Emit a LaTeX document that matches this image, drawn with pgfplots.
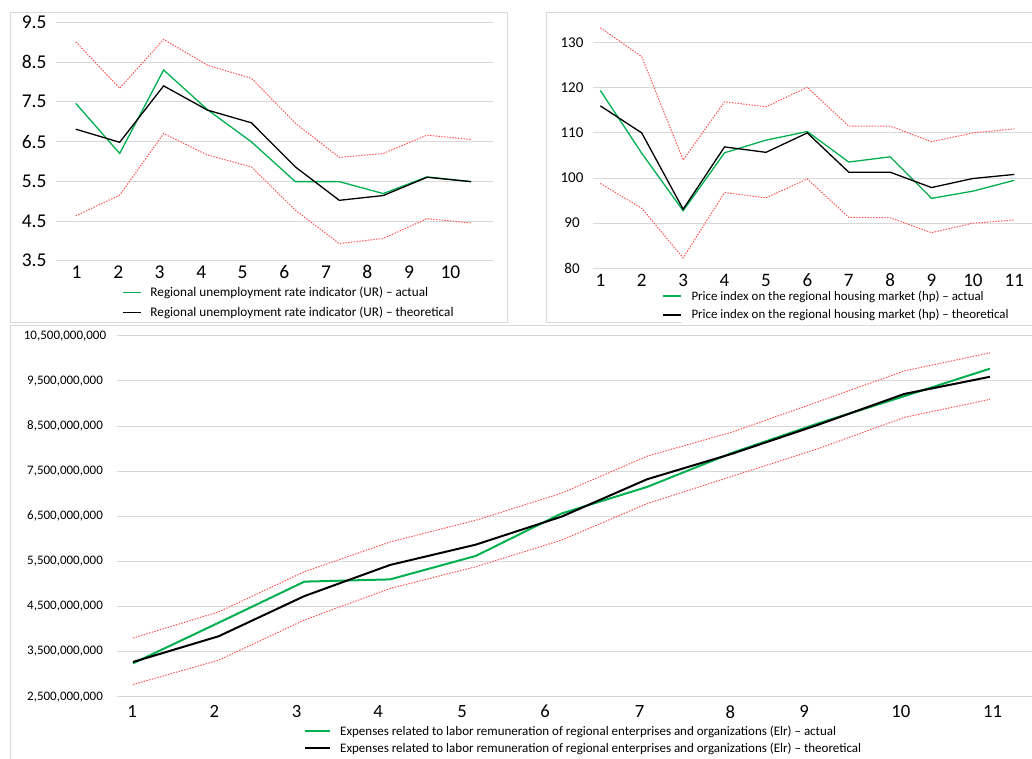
\documentclass[border=0pt]{standalone}
\usepackage{pgfplots}
\pgfplotsset{compat=1.18}
\usepackage{fontspec}
\setmainfont{Carlito}
\definecolor{xlgreen}{RGB}{0,176,80}
\definecolor{xlred}{RGB}{255,80,80}
\definecolor{gridgray}{RGB}{217,217,217}
\definecolor{bordergray}{RGB}{217,217,217}
\pgfplotsset{
  xlbase/.style={
    scale only axis, axis line style={draw=none}, tick style={draw=none},
    ymajorgrids, xmajorgrids=false, major grid style={gridgray, line width=0.9pt},
    /pgf/number format/assume math mode=true,
    legend cell align=left,
    xticklabel style={anchor=center, inner sep=0pt},
  },
  redl/.style={xlred, line width=1pt, dash pattern=on 1.4pt off 1.4pt, forget plot},
  grl/.style={xlgreen, line width=#1},
  bkl/.style={black, line width=#1},
}
\begin{document}
\begin{tikzpicture}
\useasboundingbox (0pt,0pt) rectangle (1032pt,-758pt);
\fill[white] (0pt,0pt) rectangle (1032pt,-758pt);
\begin{scope}
\clip (0pt,0pt) rectangle (1032pt,-758pt);
% panel borders
\draw[bordergray, line width=0.8pt] (10pt,-12pt) rectangle (507pt,-322pt);
\draw[bordergray, line width=0.8pt] (682pt,-322pt) -- (546.7pt,-322pt) -- (546.7pt,-12pt) -- (1040pt,-12pt);
\draw[bordergray, line width=0.8pt] (10pt,-770pt) -- (10pt,-325pt) -- (1040pt,-325pt);

% ---------------- top-left: UR
\begin{axis}[xlbase,
  at={(56pt,-260.7pt)}, anchor=south west,
  width=437pt, height=238.4pt,
  xmin=0.55, xmax=10.5, ymin=3.5, ymax=9.5,
  ytick={3.5,4.5,5.5,6.5,7.5,8.5,9.5},
  yticklabel style={anchor=east, inner sep=0pt, xshift=-9.3pt, font=\fontsize{19.5}{22}\selectfont,
    /pgf/number format/.cd, fixed, fixed zerofill, precision=1},
  xtick={1.02,1.97,2.91,3.86,4.80,5.75,6.70,7.64,8.59,9.53},
  xticklabels={1,2,3,4,5,6,7,8,9,10},
  xticklabel style={yshift=-11.6pt, font=\fontsize{19.5}{22}\selectfont},
  legend style={at={(axis description cs:0.151,-0.1753)}, anchor=west,
    draw=none, fill=none, inner sep=0pt, font=\fontsize{13.2}{15}\selectfont,
    nodes={inner sep=0pt}, row sep=9pt},
  legend image code/.code={\draw[#1] (0pt,0pt) -- (18pt,0pt); \path (27pt,0pt);},
]
\addplot[redl] coordinates {(1,9.01)(2,7.84)(3,9.07)(4,8.42)(5,8.09)(6,6.96)(7,6.10)(8,6.20)(9,6.66)(10,6.55)};
\addplot[redl] coordinates {(1,4.63)(2,5.15)(3,6.70)(4,6.16)(5,5.86)(6,4.77)(7,3.93)(8,4.06)(9,4.56)(10,4.45)};
\addplot[grl=1.3pt] coordinates {(1,7.46)(2,6.20)(3,8.30)(4,7.30)(5,6.49)(6,5.49)(7,5.49)(8,5.19)(9,5.61)(10,5.49)};
\addlegendentry{Regional unemployment rate indicator (UR) -- actual}
\addplot[bkl=1.3pt] coordinates {(1,6.81)(2,6.48)(3,7.90)(4,7.29)(5,6.97)(6,5.86)(7,5.02)(8,5.14)(9,5.60)(10,5.49)};
\addlegendentry{Regional unemployment rate indicator (UR) -- theoretical}
\end{axis}

% ---------------- top-right: hp
\begin{axis}[xlbase,
  at={(593.3pt,-268.3pt)}, anchor=south west,
  width=438.8pt, height=248.2pt,
  xmin=0.83, xmax=11.43, ymin=80, ymax=135,
  ytick={80,90,100,110,120,130},
  yticklabel style={anchor=center, inner sep=0pt, xshift=-21.3pt, font=\fontsize{15}{18}\selectfont},
  xtick={1,...,11},
  xticklabel style={yshift=-11.7pt, font=\fontsize{19}{22}\selectfont},
  legend style={at={(axis description cs:0.156,-0.150)}, anchor=west,
    draw=none, fill=none, inner sep=0pt, font=\fontsize{12.9}{15}\selectfont,
    nodes={inner sep=0pt}, row sep=8pt},
  legend image code/.code={\draw[#1] (0pt,0pt) -- (18.3pt,0pt); \path (28.3pt,0pt);},
]
\addplot[redl] coordinates {(1,133.3)(2,126.9)(3,104.0)(4,116.9)(5,115.8)(6,120.1)(7,111.5)(8,111.5)(9,108.05)(10,110.0)(11,110.9)};
\addplot[redl] coordinates {(1,98.8)(2,93.3)(3,82.3)(4,96.8)(5,95.6)(6,99.8)(7,91.3)(8,91.2)(9,87.9)(10,90.0)(11,90.7)};
\addplot[grl=1.3pt] coordinates {(1,119.4)(2,105.5)(3,92.75)(4,105.6)(5,108.4)(6,110.3)(7,103.55)(8,104.7)(9,95.5)(10,97.1)(11,99.5)};
\addlegendentry{Price index on the regional housing market (hp) -- actual}
\addplot[bkl=1.3pt] coordinates {(1,116.0)(2,110.0)(3,93.1)(4,106.9)(5,105.7)(6,110.0)(7,101.3)(8,101.3)(9,97.9)(10,99.9)(11,100.8)};
\addlegendentry{Price index on the regional housing market (hp) -- theoretical}
\end{axis}

% ---------------- bottom: Elr
\begin{axis}[xlbase,
  at={(116.7pt,-696.7pt)}, anchor=south west,
  width=915.3pt, height=361pt,
  xmin=0.81, xmax=11.49, ymin=2500000000, ymax=10500000000,
  ytick={2500000000,3500000000,4500000000,5500000000,6500000000,7500000000,8500000000,9500000000,10500000000},
  scaled y ticks=false,
  yticklabel style={anchor=center, inner sep=0pt, xshift=-51.7pt, font=\fontsize{13}{15}\selectfont,
    /pgf/number format/.cd, fixed, precision=0, 1000 sep={,}},
  xtick={0.99,1.95,2.91,3.86,4.84,5.81,6.91,7.97,8.83,9.96,11.03},
  xticklabels={1,2,3,4,5,6,7,8,9,10,11},
  xticklabel style={yshift=-15pt, font=\fontsize{18.7}{22}\selectfont},
  legend style={at={(axis description cs:0.2046,-0.119)}, anchor=west,
    draw=none, fill=none, inner sep=0pt, font=\fontsize{13}{15}\selectfont,
    nodes={inner sep=0pt}, row sep=6pt},
  legend image code/.code={\draw[#1] (0pt,0pt) -- (25pt,0pt); \path (34pt,0pt);},
]
\addplot[redl] coordinates {(1,3800000000)(2,4380000000)(3,5270000000)(4,5930000000)(5,6410000000)(6,7010000000)(7,7830000000)(8,8370000000)(9,9040000000)(10,9720000000)(11,10120000000)};
\addplot[redl] coordinates {(1,2770000000)(2,3310000000)(3,4200000000)(4,4900000000)(5,5380000000)(6,5970000000)(7,6780000000)(8,7390000000)(9,8000000000)(10,8690000000)(11,9090000000)};
\addplot[grl=2pt] coordinates {(1,3240000000)(2,4140000000)(3,5050000000)(4,5100000000)(5,5620000000)(6,6560000000)(7,7150000000)(8,7910000000)(9,8560000000)(10,9160000000)(11,9770000000)};
\addlegendentry{Expenses related to labor remuneration of regional enterprises and organizations (Elr) -- actual}
\addplot[bkl=2pt] coordinates {(1,3270000000)(2,3840000000)(3,4730000000)(4,5420000000)(5,5870000000)(6,6490000000)(7,7320000000)(8,7890000000)(9,8530000000)(10,9210000000)(11,9590000000)};
\addlegendentry{Expenses related to labor remuneration of regional enterprises and organizations (Elr) -- theoretical}
\end{axis}
\end{scope}
\end{tikzpicture}
\end{document}
